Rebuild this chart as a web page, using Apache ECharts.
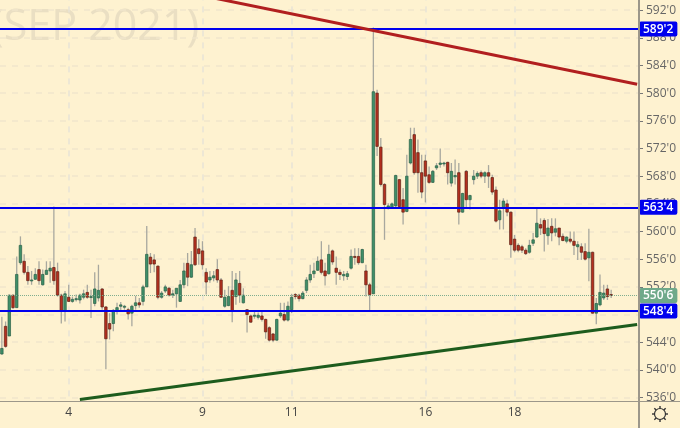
<!DOCTYPE html>
<html>
<head>
<meta charset="utf-8">
<style>html,body{margin:0;padding:0;background:#fef2d0;}#chart{width:680px;height:428px;}</style>
<script src="https://cdn.jsdelivr.net/npm/echarts@6/dist/echarts.min.js"></script>
</head>
<body>
<div id="chart"></div>
<script>
var opens = [
  542.3,546.3,544.9,550.8,549,555.5,555.7,554.1,552.9,553.1,
  554.5,552.3,553.8,554.3,554.8,554.2,550.8,548.5,550.5,549.9,
  550.2,550.1,550.5,551.2,550.5,549.6,550.4,551.7,549.1,546.7,
  546.7,548.5,549.2,549.1,548.7,548.2,549.3,549.7,549.9,552,
  556.3,555.9,555,550.5,551.4,551.8,550.8,551,549.9,552.3,
  555.4,553.4,559.2,557.5,557.2,554.1,553,553.3,554.5,553,
  549.2,549.3,551.5,550.6,552.5,549.7,548.7,547.8,547.8,547.6,
  547.8,547.3,546.1,545.2,544.3,547.8,548,547.2,548.7,550.9,
  550.8,550.3,551.5,553,553.9,554.4,555.9,554.3,553.9,557.2,
  554.7,554.1,553.6,553.5,554.7,556.4,556.4,555.5,554.3,552.3,
  551,580,572.2,566.8,563.4,563.4,563.7,567.5,564.6,562.9,
  569.9,574,571.4,568.5,570.2,568.2,567.1,569.2,569.7,569.8,
  570,567,567.9,568.5,562.8,568.7,564.6,567.5,568,568.5,
  568,568.5,567.8,566,561.7,563.4,564,562.8,558.9,558,
  557.8,557.3,557,558.3,559.2,561,561.6,559.4,560.75,559.9,
  560.5,559.3,558.6,558.9,558.6,557.8,557.8,557.1,556.2,557,
  548.2,549.4,550.4,551.7,550.9
];
var closes = [
  543.1,543.4,550.8,549,553.8,558,554.1,552.9,553,553.8,
  552.9,553.8,554.4,554.7,552.9,550.8,548.6,551,549.9,550.2,
  550.3,550.8,551,550.5,550.6,551.7,551.5,549.1,544.5,545.9,
  548.6,549,549.4,549.2,548.1,549.2,549.7,549.4,552,556.7,
  555.3,555.3,550.5,551.1,552,550.8,551,551.8,552.3,554.3,
  553.4,555.2,555.2,556.8,555.2,552.7,553.4,553.6,553,550.5,
  550.5,550.6,548.5,553,550.8,550.8,548,546.9,547.9,547.9,
  547.3,545.5,544.3,544.3,547.3,548.2,547.2,549.2,550.5,550.6,
  550.3,551.1,553,553.8,554.3,555.7,554.1,553.6,556.7,555.6,
  554.1,553.8,553.8,553.9,556.4,556.3,555.5,557.4,552.3,550.9,
  580.2,572.3,566.8,563.9,563.7,564,568.1,563.6,562.8,568,
  573.3,568.5,568.5,565.7,568,567.1,568.7,569.5,569.9,569.9,
  568.5,568.7,568.1,562.8,565.5,564.6,565.2,568,568.4,568,
  568.5,568,565.7,561.5,563,564.4,562.8,558.1,557.3,557.3,
  557.3,556.8,558,558.8,561.2,560.5,559.7,560.5,559.8,560.4,
  559.2,558.7,559.2,558.6,558,558.1,557,556,557,548.2,
  549.6,551.2,551.1,550.6,550.75
];
var lows = [
  542.2,543.2,544.9,548.8,549,555.2,553.8,552.3,552.3,553,
  552.3,552.2,553.8,552.6,552.3,550.6,546.7,547,549.8,549.7,
  549.9,549.6,550.2,550.3,547.5,549.2,549.9,548.7,540.1,544.4,
  545.6,548,548.5,548.7,547.3,546.3,548.7,549,549.3,552,
  554,554.1,550.2,550.3,551.1,550.6,550.4,549,549.8,551.8,
  552.1,553.3,555,555.2,554.5,550.9,552.6,552.8,552.6,550.4,
  549,549.2,546.9,549.4,549.7,549.6,545.4,546.8,547.4,547.3,
  547,544.5,544.1,544,544.2,547.5,547,547,548.2,550.2,
  549.9,550.2,551.1,552.6,553.3,554.3,553.8,552.2,553.8,555.2,
  552.3,553,552.9,553,554.5,555.2,555.2,555.4,550.6,548.5,
  551,570.9,566.5,558.8,563.2,563.3,563.4,563.3,561,562.8,
  569.7,568.2,565.6,564.8,564.2,566.9,567,568.9,569.2,569.4,
  566.8,566.5,566.8,561,562.7,563.4,563.2,566.8,567.6,567.7,
  567,566.3,565.3,561.3,560.3,560.3,562.2,556.2,557,557,
  556.9,556.6,556.8,557.9,559.1,559.5,557.1,558.1,558.6,559.3,
  558,558.6,558.3,558.3,556.6,555.9,555.9,555.8,552.8,548.1,
  546.6,549.2,550.1,550.1,550.4
];
var highs = [
  547.7,547,550.9,550.9,556.4,559.3,556.7,555,554.3,554.7,
  555.7,554.5,555.7,555.7,563.6,555.5,551,551.4,552.3,550.6,
  550.9,551,551.6,552.3,551.6,554.1,555.2,551.8,549.2,548.2,
  548.8,549.7,549.8,549.4,549,549.4,550.7,550.4,552.3,560.8,
  556.9,556.7,555.1,551.4,552.3,552,551.6,551.8,553,555.5,
  556.9,557.2,560.5,558.9,558.6,554.7,554.3,554.3,556,553.3,
  551.6,552.1,554.3,554,554.3,551.8,548.8,548,548.5,548.3,
  548.5,547.4,546.3,545.3,547.4,549.7,549.7,549.9,551,551.1,
  551,551.4,553.4,555.2,555.5,556.4,558.6,555.5,558.1,557.4,
  556.4,554.5,554.3,554.3,557.4,557.6,557.6,557.5,555.2,552.6,
  589.5,580.5,573.5,567,564.1,564.2,568.2,567.6,566.3,571.1,
  575,575,573.3,571.1,571.1,569.4,568.9,569.9,572,570.1,
  570.1,569.9,570.4,569.9,565.6,568.9,565.3,568.9,568.7,568.8,
  568.7,569.6,568.2,566.5,564.6,564.8,564.6,562.9,559.5,558.3,
  558.1,557.6,558.8,559.8,563.5,561.9,561.9,561.8,561.9,561.9,
  560.5,559.7,559.3,560,560,558.6,558.3,558.3,560.4,557.1,
  550.4,553.8,552.3,552.3,551.6
];
var slotCount = 172;
var dayIndex = [18, 54, 78, 114, 138];
var dayLabels = ['4', '9', '11', '16', '18'];
var levels = [589.25, 563.5, 548.5];
var levelLabels = ["589'2", "563'4", "548'4"];
var lastPrice = 550.75;
var lastLabel = "550'6";
var redTrend = [[55, 593.97], [171, 581.28]];
var greenTrend = [[21, 535.72], [171, 546.55]];

var categories = [];
for (var s = 0; s < slotCount; s++) categories.push(String(s));
var bars = opens.map(function (o, i) { return [i, o, closes[i], lows[i], highs[i]]; });

function renderBar(params, api) {
    var x = api.value(0), o = api.value(1), c = api.value(2);
    var top = api.coord([x, api.value(4)]), bottom = api.coord([x, api.value(3)]);
    var a = api.coord([x, o]), b = api.coord([x, c]);
    var up = c >= o;
    return {
        type: 'group',
        children: [{
            type: 'line',
            shape: { x1: top[0], y1: top[1], x2: bottom[0], y2: bottom[1] },
            style: { stroke: '#a8a89f', lineWidth: 1.3 }
        }, {
            type: 'rect',
            shape: { x: a[0] - 1.25, y: Math.min(a[1], b[1]), width: 2.5, height: Math.max(Math.abs(a[1] - b[1]), 1) },
            style: { fill: up ? '#3f8f68' : '#b5301f', stroke: up ? '#2a6048' : '#5d2014', lineWidth: 0.7 }
        }]
    };
}

function levelLine(price, text, color) {
    return {
        yAxis: price,
        lineStyle: { color: color, width: 2, type: 'solid' },
        label: {
            show: true, position: 'end', distance: 0, formatter: text, color: '#fff',
            backgroundColor: color, padding: [2, 4, 1, 4], borderRadius: 2,
            fontFamily: 'Open Sans', fontSize: 12, fontWeight: 600
        }
    };
}

var gear = [{
    type: 'circle', z: 50,
    shape: { cx: 660, cy: 414, r: 5.5 },
    style: { fill: 'none', stroke: '#333', lineWidth: 1.2 }
}];
[0, 45, 90, 135, 180, 225, 270, 315].forEach(function (deg) {
    var r = deg * Math.PI / 180;
    gear.push({
        type: 'line', z: 50,
        shape: { x1: 660 + 5.5 * Math.cos(r), y1: 414 + 5.5 * Math.sin(r), x2: 660 + 8 * Math.cos(r), y2: 414 + 8 * Math.sin(r) },
        style: { stroke: '#333', lineWidth: 1.4 }
    });
});

var myChart = echarts.init(document.getElementById('chart'), null, { renderer: 'canvas' });
var option = {
    animation: false,
    backgroundColor: '#fef2d0',
    grid: { left: 0, right: 41, top: -17.6, bottom: 30.4, outerBoundsMode: 'none' },
    graphic: [{
        type: 'text', z: -1, x: -9, y: 28,
        style: { text: '(SEP 2021)', font: '43px "Open Sans"', fill: '#eadfc3', verticalAlign: 'middle' }
    }, {
        type: 'line', z: 40,
        shape: { x1: 0, y1: 401.5, x2: 680, y2: 401.5 },
        style: { stroke: '#9c978a', lineWidth: 1 }
    }, {
        type: 'line', z: 40,
        shape: { x1: 639, y1: 0, x2: 639, y2: 428 },
        style: { stroke: '#9c978a', lineWidth: 2 }
    }].concat(gear),
    xAxis: {
        type: 'category',
        data: categories,
        boundaryGap: true,
        offset: 3,
        axisLine: { show: false },
        axisTick: { show: false },
        axisLabel: {
            color: '#444', fontFamily: 'Open Sans', fontSize: 12, margin: 6,
            interval: function (i) { return dayIndex.indexOf(i) >= 0; },
            formatter: function (v, i) { var k = dayIndex.indexOf(i); return k >= 0 ? dayLabels[k] : ''; }
        },
        splitLine: {
            show: true,
            alignWithLabel: true,
            interval: function (i) { return dayIndex.indexOf(i) >= 0; },
            lineStyle: { color: '#e8e3d6', type: [6, 6], width: 1.5 }
        }
    },
    yAxis: {
        type: 'value',
        position: 'right',
        min: 536,
        max: 596,
        interval: 4,
        axisLine: { show: false },
        axisTick: { show: true, length: 4, lineStyle: { color: '#777' } },
        axisLabel: {
            color: '#666', fontFamily: 'Open Sans', fontSize: 12, margin: 7,
            formatter: function (v) { return v + "'0"; }
        },
        splitLine: { lineStyle: { color: '#f1e6cb', type: [6, 6], width: 1.5 } }
    },
    series: [{
        type: 'custom',
        renderItem: renderBar,
        data: bars,
        encode: { x: 0, y: [1, 2, 3, 4] },
        z: 3
    }, {
        type: 'line',
        data: [],
        z: 5,
        markLine: {
            silent: true,
            symbol: 'none',
            animation: false,
            data: [{
                yAxis: lastPrice,
                lineStyle: { color: '#7fae8f', width: 1, type: 'dotted' },
                label: {
                    show: true, position: 'end', distance: 0, formatter: lastLabel, color: '#fff',
                    backgroundColor: '#6fa98a', padding: [2, 4, 1, 4], borderRadius: 2,
                    fontFamily: 'Open Sans', fontSize: 12, fontWeight: 600
                }
            }].concat(levels.map(function (p, i) { return levelLine(p, levelLabels[i], '#0000ee'); }))
        }
    }, {
        type: 'line',
        data: redTrend,
        clip: false,
        showSymbol: false,
        z: 6,
        lineStyle: { color: '#b11f1f', width: 3 }
    }, {
        type: 'line',
        data: greenTrend,
        clip: false,
        showSymbol: false,
        z: 6,
        lineStyle: { color: '#1d5c1d', width: 3 }
    }]
};
myChart.setOption(option);
</script>
</body>
</html>
